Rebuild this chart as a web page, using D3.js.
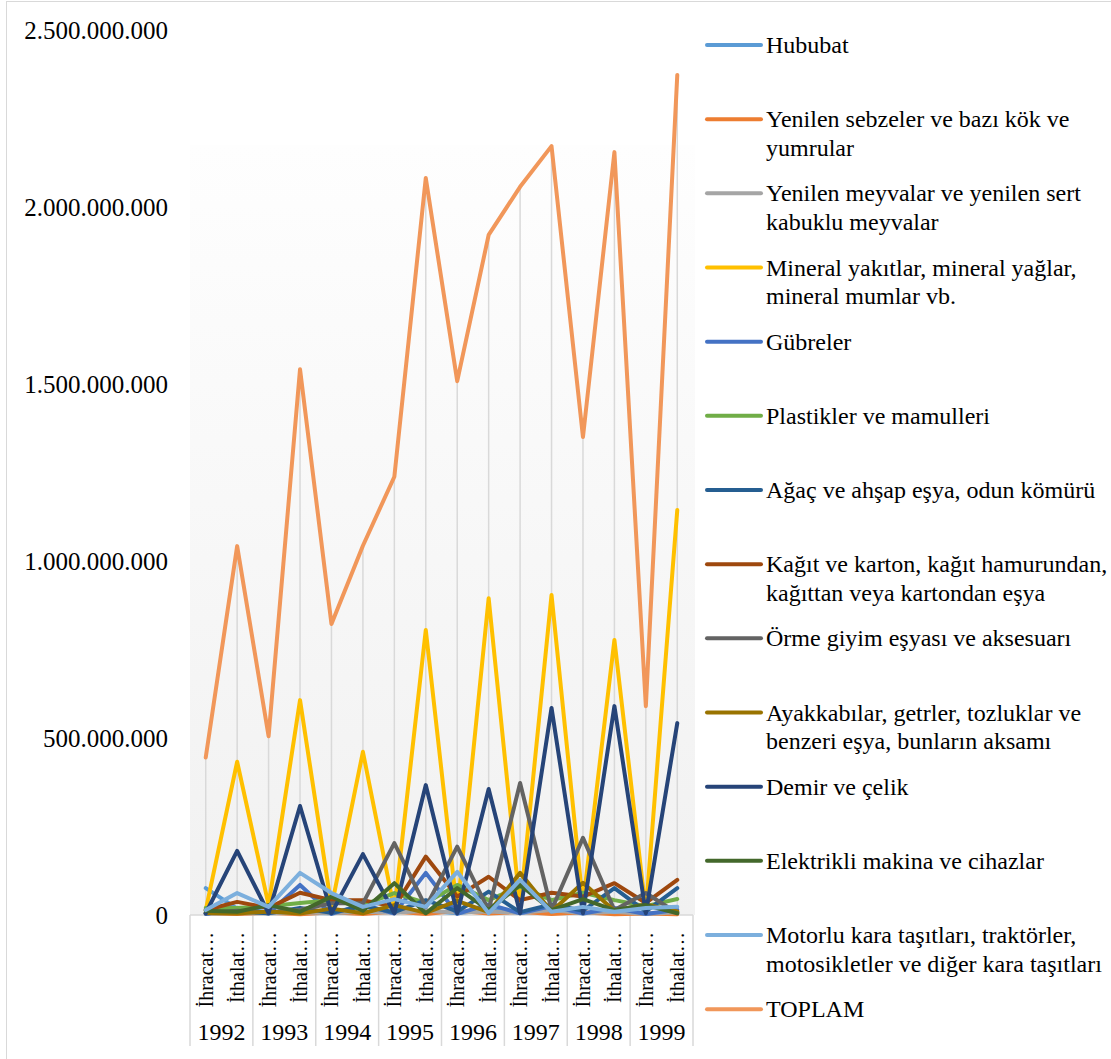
<!DOCTYPE html>
<html>
<head>
<meta charset="utf-8">
<script src="https://cdn.jsdelivr.net/npm/d3@7"></script>
<style>
  body { margin: 0; background: #fff; }
  svg { display: block; }
  text { font-family: "Liberation Serif", "Times New Roman", serif; fill: #000; }
</style>
</head>
<body>
<svg id="chart" width="1111" height="1059"></svg>
<script>
// categories: year groups, two entries each
const years = ['1992', '1993', '1994', '1995', '1996', '1997', '1998', '1999'];
const flows = ['İhracat…', 'İthalat…'];
const yTicks = [0, 500000000, 1000000000, 1500000000, 2000000000, 2500000000];

// values in millions
const hububat = [76, 18, 8, 6, 5, 10, 8, 12, 5, 15, 6, 10, 5, 12, 4, 8];
const sebzeler = [5, 3, 6, 2, 8, 3, 10, 3, 12, 4, 9, 3, 8, 2, 4, 2];
const meyvalar = [3, 6, 4, 8, 5, 9, 6, 12, 7, 10, 6, 14, 5, 9, 3, 8];
const mineral = [14, 433, 28, 607, 23, 461, 15, 805, 10, 895, 20, 904, 30, 777, 10, 1144];
const gubreler = [3, 20, 4, 85, 3, 30, 4, 119, 3, 30, 5, 25, 4, 20, 3, 15];
const plastik = [20, 20, 25, 34, 42, 28, 62, 34, 85, 42, 80, 42, 63, 42, 25, 45];
const agac = [5, 10, 5, 20, 6, 25, 8, 42, 10, 66, 8, 30, 12, 76, 10, 76];
const kagit = [14, 37, 20, 63, 42, 42, 23, 165, 52, 108, 42, 63, 52, 90, 34, 99];
const orme = [5, 12, 8, 15, 33, 33, 203, 22, 193, 14, 373, 14, 218, 14, 62, 5];
const ayakkabi = [6, 4, 10, 4, 18, 5, 28, 6, 40, 8, 119, 10, 91, 12, 30, 10];
const demir = [5, 181, 5, 308, 5, 172, 5, 367, 5, 356, 5, 585, 5, 590, 5, 542];
const elektrik = [12, 9, 28, 9, 52, 12, 90, 5, 76, 14, 85, 14, 45, 14, 28, 5];
const motorlu = [14, 62, 23, 119, 62, 23, 45, 23, 122, 5, 99, 9, 23, 9, 20, 23];
const toplam = [445, 1042, 505, 1542, 822, 1043, 1238, 2082, 1508, 1921, 2057, 2172, 1350, 2155, 590, 2373];

const series = [
  {name: ['Hububat'], color: '#5B9BD5', values: hububat},
  {name: ['Yenilen sebzeler ve bazı kök ve', 'yumrular'], color: '#ED7D31', values: sebzeler},
  {name: ['Yenilen meyvalar ve yenilen sert', 'kabuklu meyvalar'], color: '#A5A5A5', values: meyvalar},
  {name: ['Mineral yakıtlar, mineral yağlar,', 'mineral mumlar vb.'], color: '#FFC000', values: mineral},
  {name: ['Gübreler'], color: '#4472C4', values: gubreler},
  {name: ['Plastikler ve mamulleri'], color: '#70AD47', values: plastik},
  {name: ['Ağaç ve ahşap eşya, odun kömürü'], color: '#255E91', values: agac},
  {name: ['Kağıt ve karton, kağıt hamurundan,', 'kağıttan veya kartondan eşya'], color: '#9E480E', values: kagit},
  {name: ['Örme giyim eşyası ve aksesuarı'], color: '#636363', values: orme},
  {name: ['Ayakkabılar, getrler, tozluklar ve', 'benzeri eşya, bunların aksamı'], color: '#997300', values: ayakkabi},
  {name: ['Demir ve çelik'], color: '#264478', values: demir},
  {name: ['Elektrikli makina ve cihazlar'], color: '#43682B', values: elektrik},
  {name: ['Motorlu kara taşıtları, traktörler,', 'motosikletler ve diğer kara taşıtları'], color: '#7CAFDD', values: motorlu},
  {name: ['TOPLAM'], color: '#F1975A', values: toplam}
];

const categories = [];
years.forEach(y => flows.forEach(f => categories.push({year: y, flow: f, key: y + f})));

const svg = d3.select('#chart');
const plot = {left: 190, right: 693, top: 30, bottom: 915};

// chart border
svg.append('rect')
  .attr('x', 6.5).attr('y', 1.5).attr('width', 1110).attr('height', 1060)
  .attr('fill', 'none').attr('stroke', '#d9d9d9');

const grad = svg.append('defs').append('linearGradient')
  .attr('id', 'bg').attr('x1', 0).attr('y1', 0).attr('x2', 0).attr('y2', 1);
grad.append('stop').attr('offset', '0%').attr('stop-color', '#fefefe');
grad.append('stop').attr('offset', '100%').attr('stop-color', '#f1f1f1');

svg.append('rect')
  .attr('x', plot.left).attr('y', 145)
  .attr('width', plot.right + 2 - plot.left).attr('height', plot.bottom - 145)
  .attr('fill', 'url(#bg)');

const x = d3.scalePoint()
  .domain(categories.map(d => d.key))
  .range([plot.left, plot.right])
  .padding(0.5);

const y = d3.scaleLinear()
  .domain([0, 2500])
  .range([plot.bottom, plot.top]);

// drop lines
svg.append('g').selectAll('line')
  .data(categories)
  .join('line')
  .attr('x1', d => x(d.key)).attr('x2', d => x(d.key))
  .attr('y1', y(0))
  .attr('y2', (d, i) => y(d3.max(series, s => s.values[i])))
  .attr('stroke', '#d9d9d9').attr('stroke-width', 1.5);

// y axis labels
const yAxis = d3.axisLeft(y)
  .tickValues(yTicks.map(v => v / 1e6))
  .tickSize(0)
  .tickPadding(22)
  .tickFormat(v => d3.format(',')(v * 1e6).replace(/,/g, '.'));

svg.append('g')
  .attr('transform', `translate(${plot.left},0)`)
  .call(yAxis)
  .attr('font-family', null)
  .call(g => g.select('.domain').remove())
  .call(g => g.selectAll('text')
    .attr('font-size', 25).attr('fill', '#000'));

// x axis line and group separators
svg.append('line')
  .attr('x1', plot.left).attr('x2', plot.right)
  .attr('y1', plot.bottom).attr('y2', plot.bottom)
  .attr('stroke', '#d9d9d9').attr('stroke-width', 1.5);

const step = x.step();
const sepX = d3.range(years.length + 1).map(i => plot.left + i * step * 2);
svg.append('g').selectAll('line')
  .data(sepX)
  .join('line')
  .attr('x1', d => d).attr('x2', d => d)
  .attr('y1', plot.bottom).attr('y2', 1046)
  .attr('stroke', '#d9d9d9').attr('stroke-width', 1.5);

svg.append('g').selectAll('text')
  .data(categories)
  .join('text')
  .attr('transform', d => `translate(${x(d.key) + 7},932) rotate(-90)`)
  .attr('text-anchor', 'end')
  .attr('font-size', 20)
  .text(d => d.flow);

svg.append('g').selectAll('text')
  .data(years)
  .join('text')
  .attr('x', (d, i) => plot.left + (i * 2 + 1) * step)
  .attr('y', 1040)
  .attr('text-anchor', 'middle')
  .attr('font-size', 24)
  .text(d => d);

// series lines
const line = d3.line()
  .x((d, i) => x(categories[i].key))
  .y(d => y(d));

svg.append('g').selectAll('path')
  .data(series)
  .join('path')
  .attr('d', d => line(d.values))
  .attr('fill', 'none')
  .attr('stroke', d => d.color)
  .attr('stroke-width', 4)
  .attr('stroke-linejoin', 'round')
  .attr('stroke-linecap', 'round');

// legend
const legend = svg.append('g').selectAll('g')
  .data(series)
  .join('g')
  .attr('transform', (d, i) => `translate(707,${45 + i * 74.17})`);

legend.append('line')
  .attr('x1', 0).attr('x2', 54)
  .attr('stroke', d => d.color)
  .attr('stroke-width', 4)
  .attr('stroke-linecap', 'round');

legend.append('text')
  .attr('x', 59)
  .attr('y', 8)
  .attr('font-size', 24)
  .selectAll('tspan')
  .data(d => d.name)
  .join('tspan')
  .attr('x', 59)
  .attr('dy', (d, i) => i ? 28.5 : 0)
  .text(d => d);
</script>
</body>
</html>
